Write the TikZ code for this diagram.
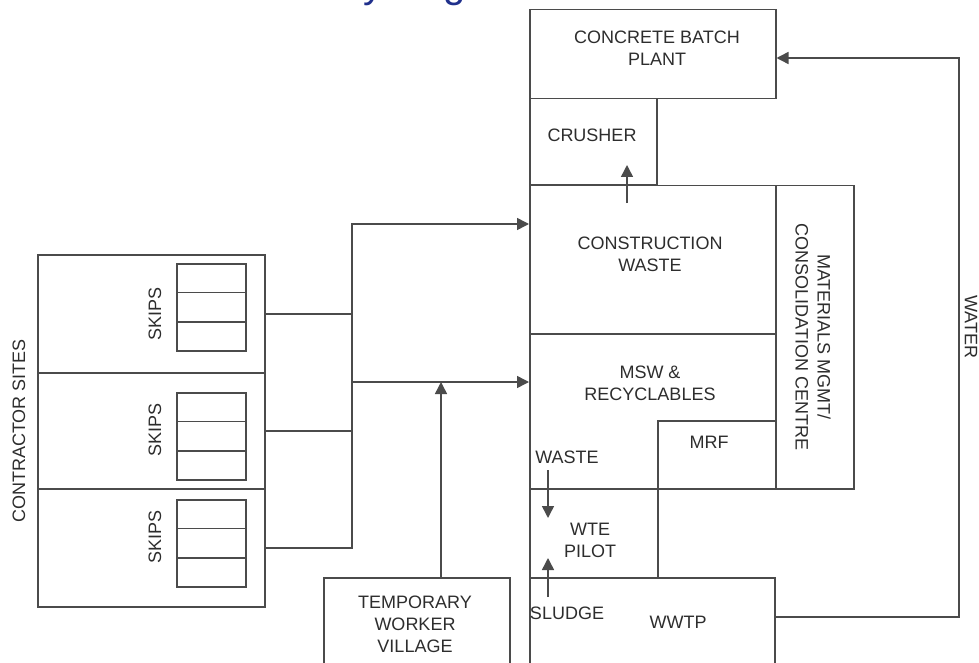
\documentclass[tikz,border=0pt]{standalone}
\usepackage{fontspec}
\setmainfont{Liberation Sans}
\usepackage{tikz}
\usetikzlibrary{arrows.meta,calc}
\definecolor{linec}{RGB}{75,75,75}
\definecolor{txtc}{RGB}{45,45,45}
\definecolor{titleblue}{RGB}{32,48,140}
\def\lblf{\fontsize{18}{22}\selectfont}

\begin{document}
\begin{tikzpicture}[x=1pt,y=-1pt,
	blk/.style={draw=linec,line width=1.5pt,anchor=north west,inner sep=0pt},
	skipbox/.style={blk,minimum width=69pt,minimum height=87pt},
	lbl/.style={text=txtc,font=\lblf,align=center,inner sep=0pt},
	flow/.style={draw=linec,line width=1.5pt,-{Triangle[length=12pt,width=12pt]}},
	wire/.style={draw=linec,line width=1.5pt}]
	\useasboundingbox (0,0) rectangle (979,663);
	\node[anchor=base west,text=titleblue,font=\fontsize{40}{48}\selectfont] (title) at (115,-2) {Concrete Recycling};
	% central facility
	\node[blk,minimum width=246pt,minimum height=89pt] (plant) at (529,9) {};
	\node[blk,minimum width=127pt,minimum height=86pt] (crusher) at (529,98) {};
	\node[blk,minimum width=246pt,minimum height=148pt] (cw) at (529,185) {};
	\node[blk,minimum width=78pt,minimum height=303pt] (mmcc) at (775,185) {};
	\node[blk,minimum width=246pt,minimum height=155pt] (msw) at (529,333) {};
	\node[blk,minimum width=118pt,minimum height=68pt] (mrf) at (657,420) {};
	\node[blk,minimum width=128pt,minimum height=89pt] (wte) at (529,488) {};
	\node[blk,minimum width=245pt,minimum height=120pt] (wwtp) at (529,577) {};
	\node[blk,minimum width=186pt,minimum height=120pt] (twv) at (323,577) {};
	% contractor sites
	\node[blk,minimum width=227pt,minimum height=118pt] (site1) at (37,254) {};
	\node[blk,minimum width=227pt,minimum height=116pt] (site2) at (37,372) {};
	\node[blk,minimum width=227pt,minimum height=118pt] (site3) at (37,488) {};
	\foreach \s/\top/\ty in {1/263/314,2/392/430,3/499/537}{
		\node[skipbox] (skip\s) at (176,\top) {};
		\foreach \f in {1/3,2/3}
			\draw[wire] ($(skip\s.north west)!\f!(skip\s.south west)$) -- ($(skip\s.north east)!\f!(skip\s.south east)$);
		\node[lbl,rotate=90] (skiptxt\s) at (155,\ty) {SKIPS};
	}
	\node[lbl,rotate=90] (sitestxt) at (19,431) {CONTRACTOR SITES};
	% labels
	\node[lbl] (planttxt) at (657,48) {CONCRETE BATCH\\PLANT};
	\node[lbl] (crushertxt) at (592,135) {CRUSHER};
	\node[lbl] (cwtxt) at (650,254) {CONSTRUCTION\\WASTE};
	\node[lbl] (mswtxt) at (650,383) {MSW \&\\RECYCLABLES};
	\node[lbl] (mrftxt) at (709,442) {MRF};
	\node[lbl] (wastetxt) at (567,457) {WASTE};
	\node[lbl] (wtetxt) at (590,540) {WTE\\PILOT};
	\node[lbl] (sludgetxt) at (567,613) {SLUDGE};
	\node[lbl] (wwtptxt) at (678,622) {WWTP};
	\node[lbl] (twvtxt) at (415,624) {TEMPORARY\\WORKER\\VILLAGE};
	\node[lbl,rotate=-90] (mmcctxt) at (813,337) {MATERIALS MGMT/\\CONSOLIDATION CENTRE};
	\node[lbl,rotate=-90] (watertxt) at (971,327) {WATER};
	% flows
	\coordinate (bustop) at (352,224);
	\coordinate (busmid) at (352,382);
	\coordinate (villageout) at (441,577);
	\draw[flow] (site3.east) -| (bustop) -- (bustop -| cw.west);
	\draw[wire] (site1.east) -- (site1.east -| bustop);
	\draw[wire] (site2.east) -- (site2.east -| bustop);
	\draw[flow] (busmid) -- (busmid -| msw.west);
	\draw[flow] (villageout) -- (villageout |- busmid);
	\coordinate (cwout) at (627,203);
	\draw[flow] (cwout) -- ++(0,-38);
	\coordinate (wasteout) at (548,470);
	\draw[flow] (wasteout) -- ++(0,48);
	\coordinate (sludgeout) at (548,597);
	\draw[flow] (sludgeout) -- ++(0,-39);
	\coordinate (wwtpout) at (774,617);
	\coordinate (waterturn) at (959,58);
	\draw[flow] (wwtpout) -| (waterturn) -- (waterturn -| plant.east);
\end{tikzpicture}
\end{document}
